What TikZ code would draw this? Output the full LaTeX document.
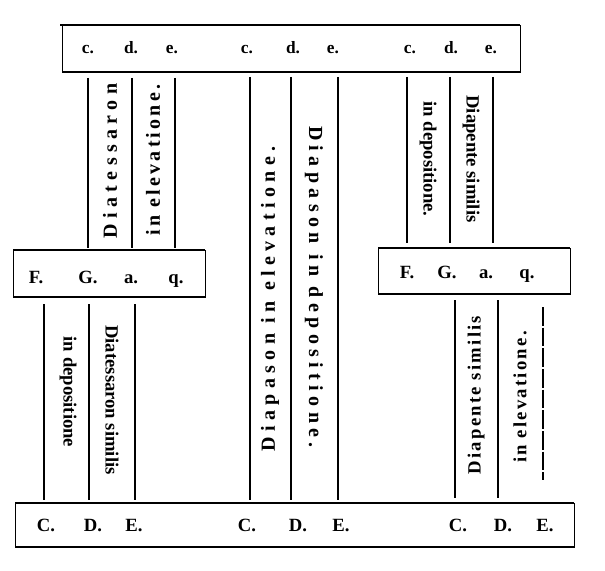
\documentclass[tikz,border=0pt]{standalone}
\usepackage{fontspec}
\setmainfont{Liberation Serif}
\newfontfamily\widefont[LetterSpace=27]{Liberation Serif}
\newfontfamily\tallfont[LetterSpace=16]{Liberation Serif}
\newfontfamily\midfont[LetterSpace=12]{Liberation Serif}
\usetikzlibrary{positioning}

\tikzset{
  note/.style={font=\bfseries\fontsize{14}{16}\selectfont, inner sep=0pt, anchor=base},
  top note/.style={font=\bfseries\fontsize{13}{15}\selectfont, inner sep=0pt, anchor=base},
  staff/.style={line width=1.3pt},
  rim/.style={line width=0.6pt},
  edge/.style={line width=1.5pt},
  up/.style={rotate=90, inner sep=0pt},
  down/.style={rotate=-90, inner sep=0pt},
  wide/.style={font=\widefont\bfseries\fontsize{15}{17}\selectfont},
  tall/.style={font=\tallfont\bfseries\fontsize{15}{17}\selectfont},
  mid/.style={font=\midfont\bfseries\fontsize{14}{16}\selectfont},
  tight/.style={font=\bfseries\fontsize{14}{16}\selectfont},
}

\begin{document}
\begin{tikzpicture}[x=0.75pt, y=-0.75pt]
    \useasboundingbox (0,0) rectangle (605,570);

    % boxes: top, left middle, right middle, bottom
    \draw[rim] (62,25) rectangle (520,72);
    \draw[edge] (60,25) -- (520,25) (62,72) -- (520,72);
    \draw[rim] (13,250) rectangle (205,297);
    \draw[edge] (13,250) -- (205,250) (13,297) -- (205,297);
    \draw[rim] (378,248) rectangle (570,294);
    \draw[edge] (378,248) -- (570,248) (378,294) -- (570,294);
    \draw[rim] (15,503) rectangle (574,547);
    \draw[edge] (15,503) -- (574,503) (15,547) -- (574,547);

    % notes
    \foreach \n/\x [count=\i] in {c./88, d./131, e./172, c./247, d./293, e./333, c./410, d./451, e./491}
      \node[top note] (t\i) at (\x,54) {\n};
    \foreach \n/\x [count=\i] in {F./36, G./88, a./131, q./176}
      \node[note] (l\i) at (\x,283) {\n};
    \foreach \n/\x [count=\i] in {F./407, G./447, a./486, q./527}
      \node[note] (r\i) at (\x,278) {\n};
    \foreach \n/\x [count=\i] in {C./46, D./93, E./134, C./247, D./298, E./341, C./458, D./503, E./545}
      \node[note] (b\i) at (\x,531) {\n};

    % staves
    \foreach \x in {88, 132, 175}
      \draw[staff] (\x,78) -- (\x,248);
    \foreach \x in {250, 291, 338}
      \draw[staff] (\x,77) -- (\x,500);
    \foreach \x in {407, 450, 493}
      \draw[staff] (\x,77) -- (\x,243);
    \foreach \x in {44, 89, 135}
      \draw[staff] (\x,304) -- (\x,500);
    \foreach \x in {455, 498}
      \draw[staff] (\x,300) -- (\x,498);
    \draw[staff, dash pattern=on 14pt off 1.5pt] (543,307) -- (543,480);

    % intervals
    \node[up, wide] (dtup) at (110,161) {Diatessaron};
    \node[up, tall] (elup) at (153,160) {in elevatione.};
    \node[up, wide] (dpup) at (270,299) {Diapason in elevatione.};
    \node[down, wide] (dpdn) at (314,287) {Diapason in depositione.};
    \node[down, tight] (dedn) at (428,159) {in depositione.};
    \node[down, tight] (dsdn) at (471,159) {Diapente similis};
    \node[down, tight] (lddn) at (68,392) {in depositione};
    \node[down, tight] (tsdn) at (112,400) {Diatessaron similis};
    \node[up, mid] (dsup) at (476,395) {Diapente similis};
    \node[up, mid] (rlup) at (520,397) {in elevatione.};
\end{tikzpicture}
\end{document}
